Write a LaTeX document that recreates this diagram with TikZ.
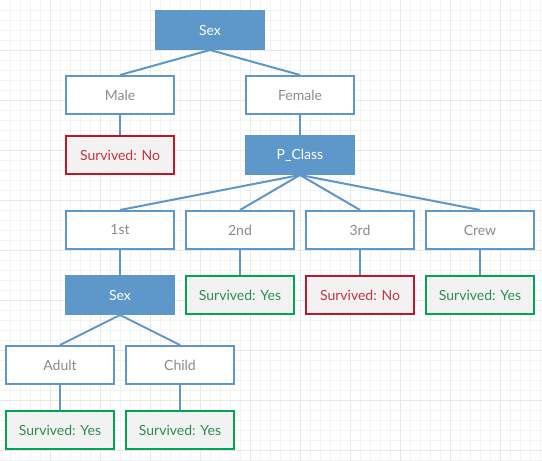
\documentclass[tikz,border=0pt]{standalone}
\usepackage{fontspec}
\setmainfont{Lato}
\definecolor{bblue}{RGB}{94,151,201}
\definecolor{rred}{RGB}{190,22,42}
\definecolor{rtext}{RGB}{200,50,65}
\definecolor{ggreen}{RGB}{0,166,81}
\definecolor{gtext}{RGB}{46,140,80}
\definecolor{gtxt}{RGB}{140,140,140}
\definecolor{leaffill}{RGB}{242,242,242}
\definecolor{gridminor}{RGB}{243,243,243}
\definecolor{gridmajor}{RGB}{232,232,232}
\begin{document}
\begin{tikzpicture}[x=1pt,y=-1pt,
  box/.style={minimum width=108pt,minimum height=38pt,inner sep=0pt,line width=2pt,font=\fontsize{14}{16}\selectfont},
  split/.style={box,fill=bblue,draw=bblue,text=white},
  cat/.style={box,fill=white,draw=bblue,text=gtxt},
  no/.style={box,fill=leaffill,draw=rred,text=rtext},
  yes/.style={box,fill=leaffill,draw=ggreen,text=gtext},
  edge/.style={draw=bblue,line width=2pt}]
\useasboundingbox (0,0) rectangle (542,461);
\fill[white] (0,0) rectangle (542,461);
\foreach \i in {10,20,...,540} \draw[gridminor,line width=0.7pt] (\i,0) -- (\i,461);
\foreach \j in {10,20,...,460} \draw[gridminor,line width=0.7pt] (0,\j) -- (542,\j);
\foreach \i in {50,100,...,500} \draw[gridmajor,line width=0.7pt] (\i,0) -- (\i,461);
\foreach \j in {50,100,...,450} \draw[gridmajor,line width=0.7pt] (0,\j) -- (542,\j);
\node[split] (sex) at (210,30) {Sex};
\node[cat] (male) at (120,95) {Male};
\node[cat] (female) at (300,95) {Female};
\node[no] (mno) at (120,155) {Survived: No};
\node[split] (pclass) at (300,155) {P\_Class};
\node[cat] (c1) at (120,230) {1st};
\node[cat] (c2) at (240,230) {2nd};
\node[cat] (c3) at (360,230) {3rd};
\node[cat] (crew) at (480,230) {Crew};
\node[split] (sex2) at (120,295) {Sex};
\node[yes] (y2) at (240,295) {Survived: Yes};
\node[no] (n3) at (360,295) {Survived: No};
\node[yes] (ycrew) at (480,295) {Survived: Yes};
\node[cat] (adult) at (60,365) {Adult};
\node[cat] (child) at (180,365) {Child};
\node[yes] (yadult) at (60,430) {Survived: Yes};
\node[yes] (ychild) at (180,430) {Survived: Yes};
\draw[edge] (sex.south) -- (male.north);
\draw[edge] (sex.south) -- (female.north);
\draw[edge] (male.south) -- (mno.north);
\draw[edge] (female.south) -- (pclass.north);
\draw[edge] (pclass.south) -- (c1.north);
\draw[edge] (pclass.south) -- (c2.north);
\draw[edge] (pclass.south) -- (c3.north);
\draw[edge] (pclass.south) -- (crew.north);
\draw[edge] (c1.south) -- (sex2.north);
\draw[edge] (c2.south) -- (y2.north);
\draw[edge] (c3.south) -- (n3.north);
\draw[edge] (crew.south) -- (ycrew.north);
\draw[edge] (sex2.south) -- (adult.north);
\draw[edge] (sex2.south) -- (child.north);
\draw[edge] (adult.south) -- (yadult.north);
\draw[edge] (child.south) -- (ychild.north);
\end{tikzpicture}
\end{document}
